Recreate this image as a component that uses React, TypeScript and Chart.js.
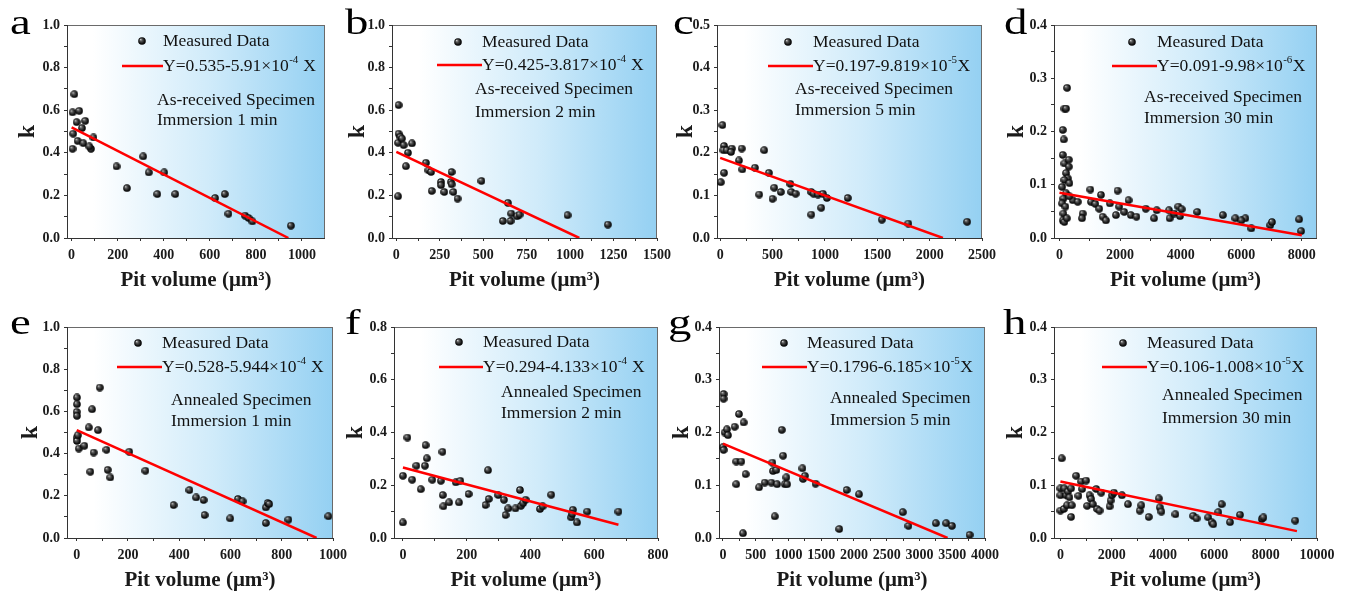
import React, { useEffect, useRef } from 'react';
import { Chart, registerables } from 'chart.js';

Chart.register(...registerables);

const SERIF = "'Liberation Serif', 'Times New Roman', serif";

// ---------------- shared text ----------------
const legendPoint = 'Measured Data';
const xTitle = 'Pit volume (μm³)';
const yTitle = 'k';

// ---------------- panel a ----------------
const aX = [12, 4, 33, 22, 59, 7, 45, 4, 26, 51, 84, 95, 77, 195, 240, 311, 335, 402, 372, 450, 623, 665, 681, 753, 768, 785, 952];
const aY = [0.675, 0.59, 0.597, 0.544, 0.55, 0.49, 0.516, 0.419, 0.456, 0.445, 0.419, 0.472, 0.43, 0.336, 0.234, 0.383, 0.308, 0.308, 0.206, 0.206, 0.1875, 0.206, 0.114, 0.105, 0.094, 0.078, 0.058];
const aFitX = [0, 941];
const aFitY = [0.519, 0];
const aXTicks = [0, 200, 400, 600, 800, 1000];
const aYTicks = [0, 0.2, 0.4, 0.6, 0.8, 1.0];
const aEq = ['Y=0.535-5.91×10', '-4', ' X'];
const aNote = ['As-received Specimen', 'Immersion 1 min'];

// ---------------- panel b ----------------
const bX = [13, 10, 13, 23, 10, 32, 42, 90, 67, 55, 170, 185, 200, 204, 257, 257, 276, 318, 314, 318, 328, 352, 490, 613, 642, 657, 661, 695, 709, 985, 1217];
const bY = [0.624, 0.196, 0.49, 0.475, 0.447, 0.467, 0.436, 0.444, 0.40, 0.337, 0.353, 0.318, 0.31, 0.221, 0.263, 0.248, 0.216, 0.31, 0.263, 0.252, 0.216, 0.185, 0.268, 0.08, 0.165, 0.08, 0.115, 0.102, 0.11, 0.107, 0.063];
const bFitX = [0, 1053];
const bFitY = [0.404, 0];
const bXTicks = [0, 250, 500, 750, 1000, 1250, 1500];
const bYTicks = [0, 0.2, 0.4, 0.6, 0.8, 1.0];
const bEq = ['Y=0.425-3.817×10', '-4', ' X'];
const bNote = ['As-received Specimen', 'Immersion 2 min'];

// ---------------- panel c ----------------
const cX = [6, 22, 38, 32, 63, 38, 111, 104, 180, 206, 212, 332, 373, 421, 465, 516, 500, 579, 671, 680, 721, 870, 870, 892, 934, 965, 981, 1019, 1218, 1544, 1797, 2358];
const cY = [0.131, 0.265, 0.216, 0.206, 0.206, 0.153, 0.21, 0.202, 0.182, 0.21, 0.161, 0.165, 0.102, 0.206, 0.153, 0.118, 0.092, 0.108, 0.127, 0.108, 0.104, 0.055, 0.108, 0.104, 0.102, 0.071, 0.104, 0.094, 0.094, 0.043, 0.034, 0.038];
const cFitX = [0, 2127];
const cFitY = [0.188, 0];
const cXTicks = [0, 500, 1000, 1500, 2000, 2500];
const cYTicks = [0, 0.1, 0.2, 0.3, 0.4, 0.5];
const cEq = ['Y=0.197-9.819×10', '-5', 'X'];
const cNote = ['As-received Specimen', 'Immersion 5 min'];

// ---------------- panel d ----------------
const dX = [252, 164, 219, 110, 142, 110, 164, 307, 307, 219,
  274, 164, 329, 88, 219, 131, 88, 197, 131, 110,
  164, 241, 438, 329, 603, 767, 745, 1019, 1041, 1184,
  1370, 1315, 1425, 1534, 1666, 1863, 1918, 1973, 2137, 2279,
  2356, 2542, 2849, 3123, 3211, 3616, 3638, 3781, 3923, 3978,
  4033, 4548, 5392, 5808, 6137, 6005, 6334, 6959, 7014, 7912,
  7978];
const dY = [0.282, 0.243, 0.243, 0.203, 0.185, 0.156, 0.14, 0.147, 0.134, 0.122,
  0.112, 0.109, 0.103, 0.096, 0.084, 0.074, 0.065, 0.059, 0.046, 0.033,
  0.03, 0.037, 0.071, 0.078, 0.068, 0.046, 0.037, 0.091, 0.068, 0.064,
  0.081, 0.055, 0.04, 0.033, 0.065, 0.043, 0.089, 0.059, 0.049, 0.071,
  0.043, 0.04, 0.055, 0.037, 0.052, 0.052, 0.037, 0.046, 0.059, 0.041,
  0.054, 0.049, 0.043, 0.037, 0.037, 0.033, 0.018, 0.024, 0.03, 0.035,
  0.013];
const dFitX = [0, 8000];
const dFitY = [0.085, 0.005];
const dXTicks = [0, 2000, 4000, 6000, 8000];
const dYTicks = [0, 0.1, 0.2, 0.3, 0.4];
const dEq = ['Y=0.091-9.98×10', '-6', 'X'];
const dNote = ['As-received Specimen', 'Immersion 30 min'];

// ---------------- panel e ----------------
const eX = [1, 1, 0, 1, 0, 1, 4, 8, 30, 47, 53, 60, 66, 83, 90, 116, 121, 131, 205, 268, 378, 440, 466, 495, 499, 599, 629, 647, 738, 745, 751, 738, 826, 982];
const eY = [0.666, 0.634, 0.598, 0.579, 0.476, 0.46, 0.487, 0.424, 0.437, 0.524, 0.314, 0.61, 0.405, 0.511, 0.713, 0.418, 0.323, 0.287, 0.409, 0.319, 0.156, 0.227, 0.192, 0.18, 0.109, 0.093, 0.185, 0.174, 0.145, 0.166, 0.161, 0.071, 0.087, 0.103];
const eFitX = [0, 936];
const eFitY = [0.511, 0];
const eXTicks = [0, 200, 400, 600, 800, 1000];
const eYTicks = [0, 0.2, 0.4, 0.6, 0.8, 1.0];
const eEq = ['Y=0.528-5.944×10', '-4', ' X'];
const eNote = ['Annealed Specimen', 'Immersion 1 min'];

// ---------------- panel f ----------------
const fX = [0, 0, 14, 29, 42, 56, 69, 71, 75, 92, 119, 124, 125, 127, 145, 166, 180, 176, 206, 259, 267, 269, 299, 317, 322, 330, 353, 367, 370, 377, 385, 430, 438, 465, 528, 533, 531, 546, 578, 676];
const fY = [0.059, 0.236, 0.381, 0.221, 0.274, 0.185, 0.274, 0.352, 0.302, 0.221, 0.217, 0.327, 0.163, 0.12, 0.135, 0.211, 0.217, 0.135, 0.167, 0.125, 0.257, 0.148, 0.163, 0.145, 0.087, 0.112, 0.112, 0.182, 0.122, 0.132, 0.145, 0.11, 0.12, 0.164, 0.078, 0.107, 0.091, 0.059, 0.1, 0.1];
const fFitX = [0, 676];
const fFitY = [0.267, 0.05];
const fXTicks = [0, 200, 400, 600, 800];
const fYTicks = [0, 0.2, 0.4, 0.6, 0.8];
const fEq = ['Y=0.294-4.133×10', '-4', ' X'];
const fNote = ['Annealed Specimen', 'Immersion 2 min'];

// ---------------- panel g ----------------
const gX = [10, 10, 0, 10, 26, 61, 77, 179, 204, 204, 245, 281, 306, 316, 347, 551, 638, 740, 755, 765, 791, 816, 827, 898, 918, 944, 969, 980, 1214, 1224, 1250, 1413, 1776, 1888, 2077, 2745, 2832, 3250, 3408, 3495, 3765];
const gY = [0.273, 0.264, 0.172, 0.167, 0.2, 0.206, 0.195, 0.211, 0.145, 0.102, 0.235, 0.145, 0.009, 0.219, 0.121, 0.096, 0.105, 0.105, 0.143, 0.127, 0.041, 0.129, 0.102, 0.205, 0.156, 0.102, 0.115, 0.102, 0.132, 0.112, 0.118, 0.103, 0.017, 0.091, 0.083, 0.049, 0.023, 0.028, 0.028, 0.023, 0.006];
const gFitX = [0, 3429];
const gFitY = [0.179, 0];
const gXTicks = [0, 500, 1000, 1500, 2000, 2500, 3000, 3500, 4000];
const gYTicks = [0, 0.1, 0.2, 0.3, 0.4];
const gEq = ['Y=0.1796-6.185×10', '-5', 'X'];
const gNote = ['Annealed Specimen', 'Immersion 5 min'];

// ---------------- panel h ----------------
const hX = [52, 0, 0, 0, 130, 156, 222, 261, 287, 352,
  417, 443, 417, 613, 704, 808, 847, 1004, 1043, 1134,
  1199, 1265, 1395, 1434, 1525, 1591, 1917, 1956, 2008, 2086,
  2399, 2634, 3090, 3155, 3442, 3833, 3872, 3937, 4485, 5176,
  5306, 5763, 5893, 5958, 6154, 6284, 6610, 7001, 7849, 7914,
  9152];
const hY = [0.151, 0.094, 0.081, 0.052, 0.055, 0.094, 0.081, 0.062, 0.088, 0.077,
  0.094, 0.062, 0.04, 0.118, 0.08, 0.107, 0.093, 0.109, 0.061, 0.081,
  0.074, 0.064, 0.093, 0.055, 0.052, 0.086, 0.06, 0.071, 0.081, 0.086,
  0.081, 0.064, 0.052, 0.062, 0.04, 0.075, 0.058, 0.05, 0.045, 0.042,
  0.037, 0.039, 0.03, 0.026, 0.049, 0.064, 0.03, 0.044, 0.036, 0.039,
  0.033];
const hFitX = [0, 9218];
const hFitY = [0.107, 0.013];
const hXTicks = [0, 2000, 4000, 6000, 8000, 10000];
const hYTicks = [0, 0.1, 0.2, 0.3, 0.4];
const hEq = ['Y=0.106-1.008×10', '-5', 'X'];
const hNote = ['Annealed Specimen', 'Immersion 30 min'];

// ---------------- layout (positions / ranges, not data) ----------------
const PANELS = [
  { letter: 'a', xs: aX, ys: aY, fitX: aFitX, fitY: aFitY, xTicks: aXTicks, yTicks: aYTicks, eq: aEq, note: aNote,
    xMin: -20, xMax: 1100, box: { L: 67, R: 325, T: 25, B: 238 }, kOff: -40,
    lg: { mx: 75, my: 16, tx: 96, l0: 55, ly: 41, nx: 90, n1: 75, n2: 95 }, let: { x: -57, y: 9 } },
  { letter: 'b', xs: bX, ys: bY, fitX: bFitX, fitY: bFitY, xTicks: bXTicks, yTicks: bYTicks, eq: bEq, note: bNote,
    xMin: -25, xMax: 1500, box: { L: 392, R: 657, T: 25, B: 238 }, kOff: -35,
    lg: { mx: 66, my: 17, tx: 90, l0: 45, ly: 40, nx: 83, n1: 64, n2: 87 }, let: { x: -47, y: 9 } },
  { letter: 'c', xs: cX, ys: cY, fitX: cFitX, fitY: cFitY, xTicks: cXTicks, yTicks: cYTicks, eq: cEq, note: cNote,
    xMin: -30, xMax: 2500, box: { L: 717, R: 982, T: 25, B: 238 }, kOff: -32,
    lg: { mx: 71, my: 17, tx: 96, l0: 51, ly: 41, nx: 78, n1: 64, n2: 85 }, let: { x: -44, y: 9 } },
  { letter: 'd', xs: dX, ys: dY, fitX: dFitX, fitY: dFitY, xTicks: dXTicks, yTicks: dYTicks, eq: dEq, note: dNote,
    xMin: -180, xMax: 8500, box: { L: 1054, R: 1317, T: 25, B: 238 }, kOff: -38,
    lg: { mx: 78, my: 17, tx: 103, l0: 58, ly: 41, nx: 90, n1: 72, n2: 93 }, let: { x: -50, y: 9 } },
  { letter: 'e', xs: eX, ys: eY, fitX: eFitX, fitY: eFitY, xTicks: eXTicks, yTicks: eYTicks, eq: eEq, note: eNote,
    xMin: -38, xMax: 1000, box: { L: 67, R: 333, T: 327, B: 538 }, kOff: -37,
    lg: { mx: 71, my: 16, tx: 95, l0: 50, ly: 40, nx: 104, n1: 73, n2: 94 }, let: { x: -57, y: 7 } },
  { letter: 'f', xs: fX, ys: fY, fitX: fFitX, fitY: fFitY, xTicks: fXTicks, yTicks: fYTicks, eq: fEq, note: fNote,
    xMin: -28, xMax: 800, box: { L: 394, R: 658, T: 327, B: 538 }, kOff: -39,
    lg: { mx: 65, my: 15, tx: 89, l0: 45, ly: 40, nx: 107, n1: 65, n2: 86 }, let: { x: -49, y: 7 } },
  { letter: 'g', xs: gX, ys: gY, fitX: gFitX, fitY: gFitY, xTicks: gXTicks, yTicks: gYTicks, eq: gEq, note: gNote,
    xMin: -60, xMax: 4000, box: { L: 719, R: 985, T: 327, B: 538 }, kOff: -38,
    lg: { mx: 65, my: 16, tx: 88, l0: 43, ly: 40, nx: 111, n1: 71, n2: 93 }, let: { x: -51, y: 7 } },
  { letter: 'h', xs: hX, ys: hY, fitX: hFitX, fitY: hFitY, xTicks: hXTicks, yTicks: hYTicks, eq: hEq, note: hNote,
    xMin: -250, xMax: 10000, box: { L: 1054, R: 1317, T: 327, B: 538 }, kOff: -39,
    lg: { mx: 69, my: 16, tx: 93, l0: 48, ly: 40, nx: 108, n1: 68, n2: 91 }, let: { x: -51, y: 7 } },
];

const PAD_L = 62;
const PAD_T = 22;
const PAD_R = 20;
const PAD_B = 62;
const X_AXIS_H = 55;
const K_SIZE = 24;

function makeSphere(d: number) {
  const c = document.createElement('canvas');
  c.width = d;
  c.height = d;
  const g = c.getContext('2d')!;
  const r = d / 2;
  const grad = g.createRadialGradient(r - r * 0.35, r - r * 0.4, 0, r, r, r);
  grad.addColorStop(0, '#d8d8d8');
  grad.addColorStop(0.3, '#5a5a5a');
  grad.addColorStop(0.75, '#111111');
  grad.addColorStop(1, '#000000');
  g.fillStyle = grad;
  g.beginPath();
  g.arc(r, r, r - 0.2, 0, Math.PI * 2);
  g.fill();
  return c;
}

function withMinors(majors: number[]) {
  const out: number[] = [];
  for (let i = 0; i < majors.length; i++) {
    out.push(majors[i]);
    if (i < majors.length - 1) out.push((majors[i] + majors[i + 1]) / 2);
  }
  return out;
}

function Panel({ p }: { p: any }) {
  const ref = useRef<HTMLCanvasElement | null>(null);
  const { L, R, T, B } = p.box;
  const cw = R - L + PAD_L + PAD_R;
  const ch = B - T + PAD_T + PAD_B;
  const yW = Math.round((K_SIZE * 1.2) / 2 - p.kOff);

  useEffect(() => {
    const canvas = ref.current;
    if (!canvas) return;
    const sphere = makeSphere(8);
    const xAll = withMinors(p.xTicks);
    const yAll = withMinors(p.yTicks);
    const isMajor = (arr: number[], v: number) => arr.some((m) => Math.abs(m - v) < 1e-9);

    const deco = {
      id: 'deco',
      beforeDraw(chart: any) {
        const { ctx, chartArea: ca } = chart;
        const grad = ctx.createLinearGradient(ca.left, 0, ca.right, 0);
        grad.addColorStop(0, '#ffffff');
        grad.addColorStop(0.1, '#ffffff');
        grad.addColorStop(0.55, 'rgb(208,235,250)');
        grad.addColorStop(1, 'rgb(148,208,242)');
        ctx.save();
        ctx.fillStyle = grad;
        ctx.fillRect(ca.left, ca.top, ca.right - ca.left, ca.bottom - ca.top);
        ctx.restore();
      },
      beforeDatasetsDraw(chart: any) {
        const { ctx, chartArea: ca } = chart;
        ctx.save();
        ctx.strokeStyle = '#6a6a6a';
        ctx.lineWidth = 1;
        ctx.strokeRect(Math.round(ca.left) + 0.5, Math.round(ca.top) + 0.5, Math.round(ca.right - ca.left) - 1, Math.round(ca.bottom - ca.top));
        ctx.strokeStyle = '#333333';
        ctx.beginPath();
        ctx.moveTo(Math.round(ca.left) + 0.5, Math.round(ca.top));
        ctx.lineTo(Math.round(ca.left) + 0.5, Math.round(ca.bottom) + 0.5);
        ctx.lineTo(Math.round(ca.right), Math.round(ca.bottom) + 0.5);
        ctx.stroke();
        ctx.restore();
      },
      afterDraw(chart: any) {
        const { ctx, chartArea: ca } = chart;
        const x0 = ca.left;
        const y0 = ca.top;
        const lg = p.lg;
        ctx.save();
        // legend: marker + label
        ctx.drawImage(sphere, x0 + lg.mx - 4, y0 + lg.my - 4);
        ctx.fillStyle = '#111111';
        ctx.textBaseline = 'middle';
        ctx.textAlign = 'left';
        ctx.font = `17.5px ${SERIF}`;
        ctx.fillText(legendPoint, x0 + lg.tx, y0 + lg.my);
        // legend: red line + equation
        ctx.strokeStyle = '#ff0000';
        ctx.lineWidth = 2.5;
        ctx.beginPath();
        ctx.moveTo(x0 + lg.l0, y0 + lg.ly);
        ctx.lineTo(x0 + lg.tx, y0 + lg.ly);
        ctx.stroke();
        let x = x0 + lg.tx;
        const y = y0 + lg.ly;
        ctx.fillText(p.eq[0], x, y);
        x += ctx.measureText(p.eq[0]).width + 0.5;
        ctx.font = `11px ${SERIF}`;
        ctx.fillText(p.eq[1], x, y - 6);
        x += ctx.measureText(p.eq[1]).width + 0.5;
        ctx.font = `17.5px ${SERIF}`;
        ctx.fillText(p.eq[2], x, y);
        // annotation
        ctx.fillText(p.note[0], x0 + lg.nx, y0 + lg.n1);
        ctx.fillText(p.note[1], x0 + lg.nx, y0 + lg.n2);
        // panel letter
        ctx.translate(x0 + p.let.x, y0 + p.let.y);
        ctx.scale(1.3, 1);
        ctx.textBaseline = 'alphabetic';
        ctx.font = `36px ${SERIF}`;
        ctx.fillStyle = '#000000';
        ctx.fillText(p.letter, 0, 0);
        ctx.restore();
      },
    };

    const tickFont = { family: SERIF, size: 14, weight: 'bold' as const };
    const chart = new Chart(canvas, {
      type: 'scatter',
      data: {
        datasets: [
          {
            type: 'scatter',
            data: p.fitX.map((x: number, i: number) => ({ x, y: p.fitY[i] })),
            showLine: true,
            borderColor: '#ff0000',
            borderWidth: 2.5,
            pointRadius: 0,
            order: 0,
          } as any,
          {
            type: 'scatter',
            data: p.xs.map((x: number, i: number) => ({ x, y: p.ys[i] })),
            pointStyle: sphere,
            pointRadius: 4,
            order: 1,
          } as any,
        ],
      },
      options: {
        animation: false,
        responsive: false,
        devicePixelRatio: 1,
        events: [],
        layout: { padding: { left: PAD_L - yW, top: PAD_T, right: PAD_R, bottom: PAD_B - X_AXIS_H } },
        plugins: { legend: { display: false }, tooltip: { enabled: false } },
        scales: {
          x: {
            type: 'linear',
            min: p.xMin,
            max: p.xMax,
            bounds: 'data',
            afterBuildTicks: (s: any) => { s.ticks = xAll.map((v) => ({ value: v })); },
            afterFit: (s: any) => { s.height = X_AXIS_H; s.paddingLeft = 0; s.paddingRight = 0; },
            grid: { drawOnChartArea: false, drawTicks: true, tickLength: 3, color: '#333333' },
            border: { display: false },
            ticks: {
              autoSkip: false,
              maxRotation: 0,
              padding: 6,
              color: '#1a1a1a',
              font: tickFont,
              callback: (v: any) => (isMajor(p.xTicks, v) ? String(Math.round(v)) : ''),
            },
            title: { display: true, text: xTitle, color: '#1a1a1a', padding: 0, font: { family: SERIF, size: 21, weight: 'bold' } },
          },
          y: {
            type: 'linear',
            min: 0,
            max: p.yTicks[p.yTicks.length - 1],
            bounds: 'data',
            afterBuildTicks: (s: any) => { s.ticks = yAll.map((v) => ({ value: v })); },
            afterFit: (s: any) => { s.width = yW; s.paddingTop = 0; s.paddingBottom = 0; },
            grid: { drawOnChartArea: false, drawTicks: true, tickLength: 3, color: '#333333' },
            border: { display: false },
            ticks: {
              autoSkip: false,
              padding: 4,
              color: '#1a1a1a',
              font: tickFont,
              callback: (v: any) => (isMajor(p.yTicks, v) ? Number(v).toFixed(1) : ''),
            },
            title: { display: true, text: yTitle, color: '#1a1a1a', padding: 0, font: { family: SERIF, size: K_SIZE, weight: 'bold' } },
          },
        },
      } as any,
      plugins: [deco as any],
    });
    return () => chart.destroy();
  }, []);

  return (
    <canvas
      ref={ref}
      width={cw}
      height={ch}
      style={{ position: 'absolute', left: L - PAD_L, top: T - PAD_T, width: cw, height: ch }}
    />
  );
}

export default function App() {
  return (
    <div style={{ position: 'absolute', left: 0, top: 0, width: 1346, height: 596, background: '#ffffff', overflow: 'hidden' }}>
      {PANELS.map((p) => (
        <Panel key={p.letter} p={p} />
      ))}
    </div>
  );
}
